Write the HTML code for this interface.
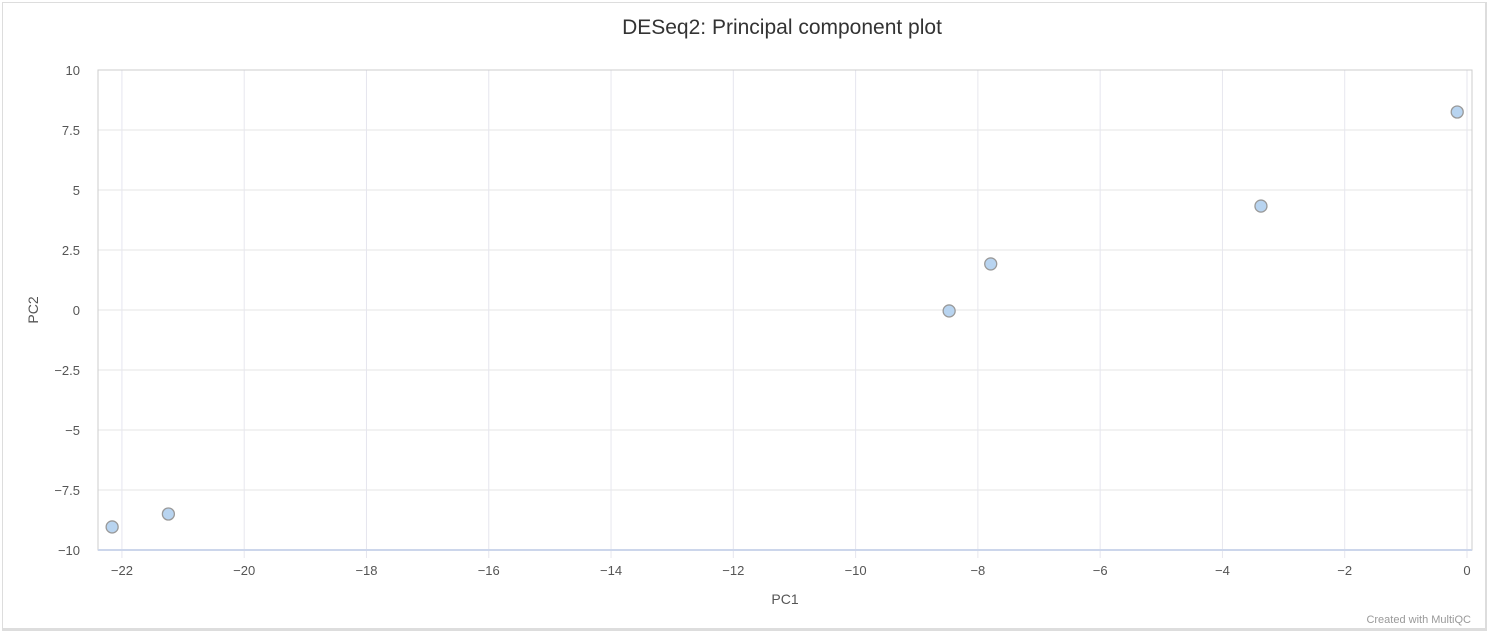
<!DOCTYPE html>
<html><head><meta charset="utf-8"><style>
body{margin:0;background:#fff;}
#wrap{position:absolute;left:2px;top:2px;width:1482px;height:625px;border:1px solid #ddd;border-bottom:3px solid #ddd;border-right:2px solid #ddd;box-sizing:content-box;}
svg{position:absolute;left:0;top:0;font-family:"Liberation Sans",sans-serif;}
</style></head><body>
<div id="wrap"></div>
<svg id="chart" width="1488" height="632">
<text x="782" y="34" text-anchor="middle" font-size="21" fill="#333">DESeq2: Principal component plot</text>
<g id="grid"></g>
<g id="pts"></g>
<text x="785" y="604" text-anchor="middle" font-size="14" fill="#555">PC1</text>
<text x="38" y="310" text-anchor="middle" font-size="14" fill="#555" transform="rotate(-90 38 310)">PC2</text>
<text x="1471" y="623" text-anchor="end" font-size="11" fill="#999">Created with MultiQC</text>
</svg>
<script>
const xTicks=[-22,-20,-18,-16,-14,-12,-10,-8,-6,-4,-2,0];
const yTicks=[10,7.5,5,2.5,0,-2.5,-5,-7.5,-10];
const pc1=[-22.16,-21.24,-8.47,-7.79,-3.37,-0.16];
const pc2=[-9.04,-8.5,-0.04,1.92,4.33,8.25];
const L=98,R=1472,T=70,B=550;
const xs=v=>1467+v*61.14;
const ys=v=>310-v*24;
const NS='http://www.w3.org/2000/svg';
const g=document.getElementById('grid'),p=document.getElementById('pts');
function mk(par,tag,at){const e=document.createElementNS(NS,tag);for(const k in at)e.setAttribute(k,at[k]);par.appendChild(e);return e;}
const fmt=v=>(v<0?'\u2212':'')+Math.abs(v);
yTicks.forEach(v=>{
 const l=mk(g,'line',{x1:L,x2:R,y1:ys(v),y2:ys(v),stroke:'#e6e6e6','stroke-width':1});
 
 
 const t=mk(g,'text',{x:80,y:ys(v)+5,'text-anchor':'end','font-size':13,fill:'#555'});
 t.textContent=fmt(v);
 
 
});
xTicks.forEach(v=>{
 const l=mk(g,'line',{x1:xs(v),x2:xs(v),y1:T,y2:B+8,stroke:'#e6e6ee','stroke-width':1});
 
 
 const t=mk(g,'text',{x:xs(v),y:575,'text-anchor':'middle','font-size':13,fill:'#555'});
 t.textContent=fmt(v);
 
 
});
const fr=mk(g,'rect',{x:L,y:T,width:R-L,height:B-T,fill:'none',stroke:'#ccc','stroke-width':1});


const ax=mk(g,'line',{x1:L,x2:R,y1:B,y2:B,stroke:'#ccd6eb','stroke-width':2});


pc1.forEach((v,i)=>{
 const c=mk(p,'circle',{cx:xs(v),cy:ys(pc2[i]),r:6,fill:'#b8d4f0',stroke:'#999','stroke-width':1.3});
 
 
});
</script>
</body></html>
